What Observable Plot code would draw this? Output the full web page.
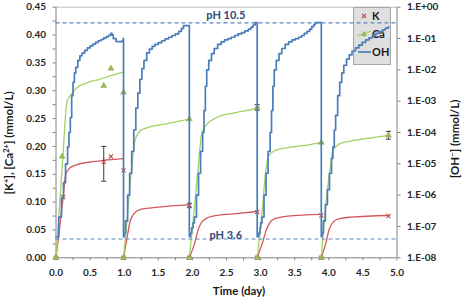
<!DOCTYPE html>
<html>
<head>
<meta charset="utf-8">
<script src="https://cdn.jsdelivr.net/npm/d3@7"></script>
<script src="https://cdn.jsdelivr.net/npm/@observablehq/plot@0.6"></script>
<style>
  body { margin: 0; background: #fff; }
  #chart { position: relative; width: 462px; height: 298px; font-family: Lato, "Open Sans", sans-serif; }
  #chart > svg { position: absolute; left: 0; top: 0; overflow: visible; }
  .legend { position: absolute; left: 353px; top: 7px; width: 38px; height: 58px;
            background: rgba(217,217,217,0.85); border: 1px solid #a6a6a6; box-sizing: border-box; }
  .legend .item { position: absolute; left: 0; width: 38px; height: 14px; }
  .legend svg { position: absolute; left: 3px; top: 0; }
  .legend span { position: absolute; left: 18px; top: 0; font: bold 11px Lato, sans-serif; line-height: 14px; color: #1a1a1a; }
</style>
</head>
<body>
<div id="chart"></div>
<script>
// ---- Data -----------------------------------------------------------------
// Time in days; K+ and Ca2+ in mmol/L (left axis), OH- in mmol/L (right, log axis).

// Fitted K+ curves, one list per leaching cycle: [day, mmol/L]
const kCurves = [
  [[0, 0], [0.05, 0.05], [0.105, 0.109], [0.14, 0.148], [0.19, 0.16], [0.3, 0.167], [0.5, 0.172], [0.7, 0.175], [0.99, 0.178]],
  [[0.99, 0], [1.04, 0.035], [1.09, 0.067], [1.14, 0.079], [1.24, 0.087], [1.5, 0.091], [1.955, 0.095]],
  [[1.955, 0], [2.03, 0.025], [2.09, 0.052], [2.13, 0.063], [2.18, 0.069], [2.3, 0.075], [2.6, 0.079], [2.95, 0.083]],
  [[2.95, 0], [3.03, 0.028], [3.09, 0.052], [3.14, 0.064], [3.2, 0.07], [3.4, 0.075], [3.89, 0.078]],
  [[3.89, 0], [3.96, 0.028], [4.0, 0.049], [4.07, 0.065], [4.15, 0.07], [4.32, 0.073], [4.875, 0.076]]
];

// Fitted Ca2+ curves, one list per cycle: [day, mmol/L]
const caCurves = [
  [[0, 0], [0.05, 0.09], [0.1, 0.18], [0.16, 0.28], [0.22, 0.293], [0.31, 0.306], [0.45, 0.314], [0.65, 0.321], [0.8, 0.327], [0.99, 0.334]],
  [[0.99, 0], [1.05, 0.08], [1.1, 0.15], [1.16, 0.212], [1.22, 0.226], [1.32, 0.233], [1.5, 0.238], [1.75, 0.244], [1.955, 0.249]],
  [[1.955, 0], [2.03, 0.09], [2.09, 0.17], [2.14, 0.225], [2.2, 0.238], [2.36, 0.252], [2.6, 0.26], [2.95, 0.268]],
  [[2.95, 0], [3.02, 0.08], [3.07, 0.15], [3.12, 0.183], [3.2, 0.192], [3.4, 0.198], [3.6, 0.201], [3.89, 0.207]],
  [[3.89, 0], [3.96, 0.1], [4.02, 0.16], [4.06, 0.193], [4.15, 0.204], [4.3, 0.209], [4.6, 0.215], [4.875, 0.22]]
];

// Measured K+ and Ca2+: [day, mmol/L]
const kMeasured = [[0, 0], [0.105, 0.109], [0.7, 0.172], [0.805, 0.182], [0.99, 0.157], [0.99, 0], [1.955, 0.094], [1.955, 0],
                   [2.95, 0.082], [2.95, 0], [3.89, 0.076], [3.89, 0], [4.875, 0.075]];
const caMeasured = [[0, 0], [0.09, 0.182], [0.7, 0.309], [0.805, 0.34], [0.99, 0.297], [0.99, 0], [1.955, 0.249], [1.955, 0],
                    [2.95, 0.27], [2.95, 0], [3.89, 0.207], [3.89, 0], [4.875, 0.22]];

// Error bars: [day, low, high]
const kErrors = [[0.7, 0.1375, 0.2], [1.955, 0.09, 0.098]];
const caErrors = [[2.95, 0.265, 0.275], [4.875, 0.213, 0.227]];

// OH- (mmol/L) recorded by the pH probe: [day, mmol/L]
const ohSeries = [
  [0.0, 4.7e-8], [0.04, 2.0e-7], [0.08, 8.0e-7], [0.11, 2.5e-6], [0.14, 1.0e-5], [0.17, 3.5e-5], [0.19, 1.0e-4],
  [0.21, 3.0e-4], [0.23, 1.5e-3], [0.25, 4.0e-3], [0.27, 8.0e-3], [0.29, 0.012], [0.32, 0.02], [0.35, 0.028],
  [0.38, 0.034], [0.42, 0.042], [0.46, 0.05], [0.5, 0.058], [0.54, 0.066], [0.58, 0.075], [0.62, 0.085],
  [0.66, 0.093], [0.7, 0.105], [0.74, 0.115], [0.77, 0.125], [0.8, 0.145], [0.82, 0.13], [0.84, 0.1],
  [0.88, 0.08], [0.97, 0.085], [0.985, 0.1], [0.99, 4.7e-8],
  [1.0, 6.0e-8], [1.02, 1.5e-7], [1.05, 1.0e-6], [1.08, 5.0e-6], [1.11, 2.5e-5], [1.14, 1.2e-4], [1.17, 6.0e-4], [1.2, 1.8e-3],
  [1.23, 5.0e-3], [1.26, 0.011], [1.29, 0.02], [1.33, 0.035], [1.37, 0.046], [1.41, 0.056], [1.45, 0.065],
  [1.5, 0.074], [1.55, 0.085], [1.6, 0.098], [1.65, 0.11], [1.7, 0.125], [1.75, 0.14], [1.8, 0.17],
  [1.84, 0.21], [1.87, 0.26], [1.955, 4.7e-8],
  [1.97, 6.0e-8], [1.99, 9.0e-8], [2.01, 1.3e-7], [2.03, 2.0e-7], [2.06, 1.0e-6], [2.09, 5.0e-6], [2.12, 2.5e-5], [2.15, 1.0e-4], [2.17, 5.0e-4], [2.19, 3.0e-3],
  [2.21, 0.01], [2.24, 0.02], [2.28, 0.033], [2.32, 0.048], [2.37, 0.065], [2.42, 0.078], [2.47, 0.09],
  [2.52, 0.1], [2.57, 0.11], [2.62, 0.125], [2.67, 0.14], [2.72, 0.155], [2.77, 0.175], [2.82, 0.2],
  [2.86, 0.23], [2.89, 0.27], [2.92, 0.32], [2.95, 4.7e-8],
  [2.97, 6.0e-8], [2.99, 9.0e-8], [3.0, 1.3e-7], [3.02, 2.0e-7], [3.05, 1.0e-6], [3.08, 5.0e-6], [3.11, 2.5e-5], [3.14, 1.0e-4], [3.16, 5.0e-4], [3.18, 3.0e-3],
  [3.2, 0.01], [3.23, 0.02], [3.27, 0.033], [3.31, 0.048], [3.36, 0.065], [3.41, 0.078], [3.46, 0.09],
  [3.51, 0.1], [3.56, 0.11], [3.6, 0.125], [3.64, 0.145], [3.68, 0.17], [3.72, 0.2], [3.75, 0.24],
  [3.78, 0.28], [3.8, 0.32], [3.89, 4.7e-8],
  [3.9, 6.0e-8], [3.92, 1.5e-7], [3.95, 5.0e-7], [3.98, 1.5e-6], [4.01, 5.0e-6], [4.04, 1.5e-5], [4.06, 3.5e-5], [4.08, 1.2e-4],
  [4.1, 3.5e-4], [4.13, 1.5e-3], [4.16, 4.0e-3], [4.19, 8.0e-3], [4.22, 0.014], [4.26, 0.022], [4.3, 0.03],
  [4.34, 0.04], [4.39, 0.05], [4.44, 0.062], [4.49, 0.075], [4.54, 0.09], [4.59, 0.105], [4.64, 0.125],
  [4.69, 0.145], [4.74, 0.165], [4.79, 0.19], [4.83, 0.215], [4.875, 0.24]
];

// Reference pH levels, as OH- in mmol/L, with the day where each label sits
const phHigh = [{label: "pH 10.5", oh: 0.316, day: 2.49}];
const phLow = [{label: "pH 3.6", oh: 3.98e-8, day: 2.49}];

// Axis ticks
const dayLabels = [0, 0.5, 1, 1.5, 2, 2.5, 3, 3.5, 4, 4.5, 5];
const dayTicks = [0, 0.25, 0.5, 0.75, 1, 1.25, 1.5, 1.75, 2, 2.25, 2.5, 2.75, 3, 3.25, 3.5, 3.75, 4, 4.25, 4.5, 4.75, 5];
const concLabels = [0, 0.05, 0.1, 0.15, 0.2, 0.25, 0.3, 0.35, 0.4, 0.45];
const concTicks = [0, 0.025, 0.05, 0.075, 0.1, 0.125, 0.15, 0.175, 0.2, 0.225, 0.25, 0.275, 0.3, 0.325, 0.35, 0.375, 0.4, 0.425, 0.45];
const ohTicks = [1e-8, 1e-7, 1e-6, 1e-5, 1e-4, 1e-3, 1e-2, 1e-1, 1];

// ---- Styling --------------------------------------------------------------
const colors = {K: "#d4585b", Ca: "#a4d165", OH: "#4a7ebb", dash: "#5a86c0", phText: "#2f4b7c", axis: "#808080", err: "#3a3a3a"};
const layout = {width: 462, height: 298, marginTop: 6.7, marginRight: 65.5, marginBottom: 40.7, marginLeft: 55.5};
const font = {fontFamily: "Lato, 'Open Sans', sans-serif", fontSize: "10px", fontWeight: "bold", color: "#262626", background: "transparent", overflow: "visible"};

const rows = (cycles) => cycles.flatMap((c, i) => c.map(([t, v]) => ({t, v, cycle: i})));
const pts = (list) => list.map(([t, v]) => ({t, v}));
const errs = (list) => list.map(([t, lo, hi]) => ({t, lo, hi}));
const capSymbol = {draw(ctx, size) { const r = Math.sqrt(size / Math.PI); ctx.moveTo(-r, 0); ctx.lineTo(r, 0); }};
const errorMarks = (data) => [
  Plot.ruleX(data, {x: "t", y1: "lo", y2: "hi", stroke: colors.err, strokeWidth: 1}),
  Plot.dot(data, {x: "t", y: "lo", symbol: capSymbol, r: 2.5, stroke: colors.err, strokeWidth: 1}),
  Plot.dot(data, {x: "t", y: "hi", symbol: capSymbol, r: 2.5, stroke: colors.err, strokeWidth: 1})
];

// ---- Primary chart: K+ and Ca2+ -------------------------------------------
const primary = Plot.plot({
  ...layout,
  style: font,
  x: {domain: [0, 5], label: null},
  y: {domain: [0, 0.45], label: null},
  marks: [
    Plot.ruleY([0.45], {stroke: "#bdbdbd"}),
    Plot.ruleX([0], {stroke: colors.axis}),
    Plot.ruleY([0], {stroke: colors.axis}),
    Plot.axisX(dayTicks, {tickSize: 3, tickFormat: () => "", stroke: colors.axis, label: null}),
    Plot.axisX(dayLabels, {tickSize: 0, tickPadding: 11, tickFormat: (d) => d.toFixed(1), label: null}),
    Plot.axisY(concTicks, {tickSize: 3, tickFormat: () => "", stroke: colors.axis, label: null}),
    Plot.axisY(concLabels, {tickSize: 0, tickPadding: 10, tickFormat: (d) => d.toFixed(2), label: null}),
    Plot.line(rows(kCurves), {x: "t", y: "v", z: "cycle", stroke: colors.K, strokeWidth: 1.3, curve: "monotone-x"}),
    Plot.line(rows(caCurves), {x: "t", y: "v", z: "cycle", stroke: colors.Ca, strokeWidth: 1.3, curve: "monotone-x"}),
    ...errorMarks(errs(kErrors)),
    ...errorMarks(errs(caErrors)),
    Plot.dot(pts(kMeasured), {x: "t", y: "v", symbol: "times", r: 2, stroke: "#c9474c", strokeWidth: 1.1}),
    Plot.dot(pts(caMeasured), {x: "t", y: "v", symbol: "triangle", r: 2.2, fill: "#9bbb59", stroke: "#86a545", strokeWidth: 0.5})
  ]
});

// ---- Secondary chart: OH- on a log axis -----------------------------------
const ohFormat = (d) => {
  const e = Math.round(Math.log10(d));
  return "1.E" + (e < 0 ? "-" : "+") + String(Math.abs(e)).padStart(2, "0");
};
const secondary = Plot.plot({
  ...layout,
  style: font,
  x: {domain: [0, 5], axis: null},
  y: {type: "log", domain: [1e-8, 1], label: null},
  marks: [
    Plot.ruleX([5], {stroke: colors.axis}),
    Plot.axisY(ohTicks, {anchor: "right", tickSize: 3, tickPadding: 7, tickFormat: ohFormat, stroke: colors.axis, label: null}),
    Plot.ruleY([...phHigh, ...phLow], {y: "oh", stroke: colors.dash, strokeWidth: 1.2, strokeDasharray: "4,3"}),
    Plot.line(ohSeries, {x: (d) => d[0], y: (d) => d[1], stroke: colors.OH, strokeWidth: 1.7, curve: "step-after"}),
    Plot.text(phHigh, {x: "day", y: "oh", text: "label", dy: -7, fill: colors.phText, fontSize: 11, fontWeight: "bold"}),
    Plot.text(phLow, {x: "day", y: "oh", text: "label", dy: -4, fill: colors.phText, fontSize: 11, fontWeight: "bold"})
  ]
});

// ---- Assemble -------------------------------------------------------------
const chart = document.getElementById("chart");
chart.appendChild(primary);

const legend = document.createElement("div");
legend.className = "legend";
legend.innerHTML = `
  <div class="item" style="top:1px"><svg width="14" height="14"><path d="M5,5L9,9M9,5L5,9" stroke="#c9474c" stroke-width="1.1"/></svg><span>K</span></div>
  <div class="item" style="top:19px"><svg width="14" height="14"><line x1="0" y1="9" x2="14" y2="4" stroke="${colors.Ca}" stroke-width="1.2"/><path d="M7,4.5L9.5,8.8H4.5Z" fill="#9bbb59" stroke="#86a545" stroke-width="0.5"/></svg><span>Ca</span></div>
  <div class="item" style="top:37px"><svg width="14" height="14"><line x1="1" y1="7" x2="14" y2="7" stroke="${colors.OH}" stroke-width="1.7"/></svg><span>OH</span></div>`;
chart.appendChild(legend);
chart.appendChild(secondary);

// Axis titles
const titles = d3.select(secondary);
const addTitle = (x, y, rotate, parts) => {
  const t = titles.append("text")
    .attr("transform", `translate(${x},${y}) rotate(${rotate})`)
    .attr("text-anchor", "middle")
    .attr("font-size", 11.5).attr("font-weight", "bold").attr("fill", "#1a1a1a");
  parts.forEach(([s, sup]) => {
    const ts = t.append("tspan").text(s);
    if (sup) ts.attr("baseline-shift", "super").attr("font-size", 7.5);
  });
};
addTitle(239, 295, 0, [["Time (day)"]]);
addTitle(13, 143, -90, [["[K"], ["+", true], ["], [Ca"], ["2+", true], ["] (mmol/L)"]]);
addTitle(459, 139, -90, [["[OH"], ["\u2212", true], ["] (mmol/L)"]]);
</script>
</body>
</html>
